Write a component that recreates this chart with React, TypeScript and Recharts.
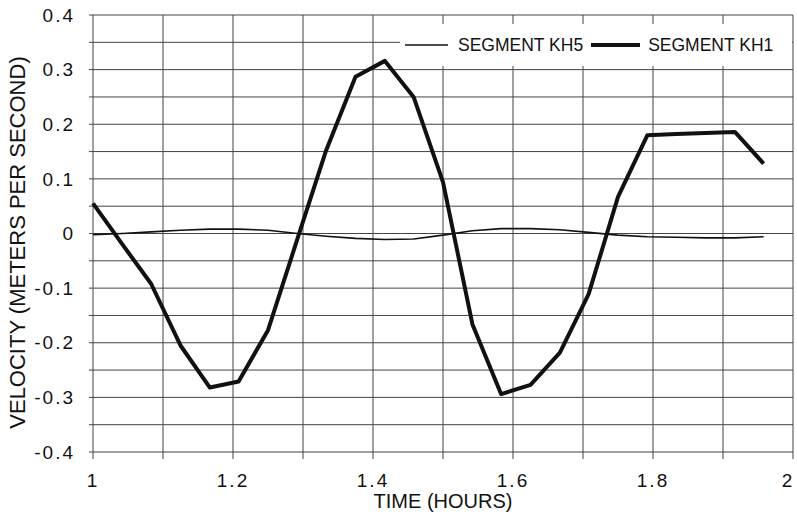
import { CartesianGrid, Legend, Line, LineChart, XAxis, YAxis } from 'recharts';

// sampled every 2.5 minutes (1/24 hour)
const time = [
  1.0, 1.042, 1.083, 1.125, 1.167, 1.208, 1.25, 1.292, 1.333, 1.375, 1.417, 1.458,
  1.5, 1.542, 1.583, 1.625, 1.667, 1.708, 1.75, 1.792, 1.833, 1.875, 1.917, 1.958,
];
const kh5 = [
  -0.002, 0.0, 0.003, 0.006, 0.008, 0.008, 0.006, 0.0, -0.005, -0.009, -0.011, -0.01,
  -0.003, 0.005, 0.009, 0.009, 0.007, 0.002, -0.003, -0.006, -0.007, -0.008, -0.008, -0.006,
];
const kh1 = [
  0.055, -0.02, -0.092, -0.205, -0.282, -0.271, -0.177, -0.01, 0.152, 0.287, 0.316, 0.25,
  0.094, -0.166, -0.294, -0.277, -0.218, -0.111, 0.067, 0.18, 0.182, 0.184, 0.186, 0.128,
];

const xTicks = [1, 1.1, 1.2, 1.3, 1.4, 1.5, 1.6, 1.7, 1.8, 1.9, 2];
const yTicks = [
  -0.4, -0.35, -0.3, -0.25, -0.2, -0.15, -0.1, -0.05, 0, 0.05, 0.1, 0.15, 0.2, 0.25, 0.3, 0.35, 0.4,
];

const series = [
  { key: 'kh5', name: 'SEGMENT KH5', width: 1.6 },
  { key: 'kh1', name: 'SEGMENT KH1', width: 4 },
];

const data = time.map((t, i) => ({ t, kh5: kh5[i], kh1: kh1[i] }));

const FONT = '"Liberation Sans", Arial, sans-serif';
const INK = '#111';

function fmtX(v: number) {
  const tenths = Math.round(v * 10);
  if (tenths % 2 !== 0) return '';
  return tenths % 10 === 0 ? String(tenths / 10) : (tenths / 10).toFixed(1);
}

function fmtY(v: number) {
  const h = Math.round(v * 100);
  if (h % 10 !== 0) return '';
  return h === 0 ? '0' : (h / 100).toFixed(1);
}

// x tick; the last label sits on the page edge, so keep it inside
function XTick(props: any) {
  const { x, y, payload } = props;
  const label = fmtX(payload.value);
  if (!label) return null;
  return (
    <text
      x={Math.min(x, 788)}
      y={y}
      dy="0.71em"
      textAnchor="middle"
      fontFamily={FONT}
      fontSize={19}
      letterSpacing={2}
      fill={INK}
    >
      {label}
    </text>
  );
}

function YTitle(props: any) {
  const vb = props.viewBox;
  const x = vb.x + 25;
  const y = vb.y + vb.height / 2 + 9;
  return (
    <text
      x={x}
      y={y}
      transform={`rotate(-90, ${x}, ${y})`}
      textAnchor="middle"
      fontFamily={FONT}
      fontSize={22}
      fill={INK}
    >
      VELOCITY (METERS PER SECOND)
    </text>
  );
}

function LegendBox() {
  return (
    <div
      style={{
        display: 'flex',
        alignItems: 'center',
        height: '100%',
        fontFamily: FONT,
        fontSize: 17.5,
        color: INK,
        background: '#fff',
        whiteSpace: 'nowrap',
      }}
    >
      {series.map((s, i) => (
        <div key={s.key} style={{ display: 'flex', alignItems: 'center', marginLeft: i === 0 ? 5 : 8 }}>
          <svg width={i === 0 ? 43 : 49} height={8} style={{ marginRight: i === 0 ? 10 : 8 }}>
            <line x1={0} y1={4} x2={i === 0 ? 43 : 49} y2={4} stroke={INK} strokeWidth={s.width} />
          </svg>
          <span>{s.name}</span>
        </div>
      ))}
    </div>
  );
}

export default function App() {
  return (
    <div style={{ position: 'absolute', left: 0, top: 0 }}>
      <LineChart width={797} height={517} data={data} margin={{ top: 15, right: 4, left: 0, bottom: 0 }}>
        <CartesianGrid stroke="#444" strokeWidth={1} />
        <XAxis
          dataKey="t"
          type="number"
          domain={[1, 2]}
          ticks={xTicks}
          interval={0}
          height={65}
          axisLine={false}
          tickLine={{ stroke: '#444' }}
          tickSize={7}
          tickMargin={15}
          tick={<XTick />}
          label={{
            value: 'TIME (HOURS)',
            position: 'insideBottom',
            offset: 9,
            fontFamily: FONT,
            fontSize: 20,
            fill: INK,
          }}
        />
        <YAxis
          type="number"
          domain={[-0.4, 0.4]}
          ticks={yTicks}
          tickFormatter={fmtY}
          interval={0}
          width={93}
          axisLine={false}
          tickLine={{ stroke: '#444' }}
          tickSize={4}
          tickMargin={14}
          tick={{ fontFamily: FONT, fontSize: 19, fill: INK, letterSpacing: 2 }}
          label={<YTitle />}
        />
        <Legend
          layout="horizontal"
          verticalAlign="middle"
          align="center"
          content={<LegendBox />}
          wrapperStyle={{ left: 400, top: 24, width: 392, height: 42 }}
        />
        {series.map((s) => (
          <Line
            key={s.key}
            type="linear"
            dataKey={s.key}
            name={s.name}
            stroke={INK}
            strokeWidth={s.width}
            strokeLinejoin="round"
            dot={false}
            activeDot={false}
            isAnimationActive={false}
          />
        ))}
      </LineChart>
    </div>
  );
}
